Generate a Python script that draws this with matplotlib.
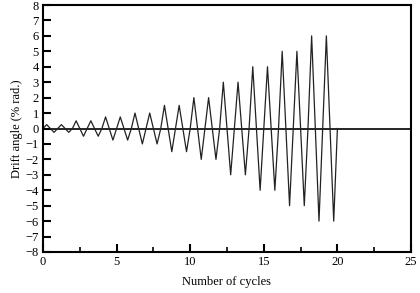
import matplotlib
matplotlib.use("Agg")
import matplotlib.pyplot as plt
import numpy as np

# Loading protocol: amplitude (% rad.) of each cycle
cycle_amplitudes = [0.25, 0.25, 0.5, 0.5, 0.75, 0.75, 1.0, 1.0, 1.5, 1.5,
                    2.0, 2.0, 3.0, 3.0, 4.0, 4.0, 5.0, 5.0, 6.0, 6.0]
x_ticks = [0, 5, 10, 15, 20, 25]
y_ticks = list(range(-8, 9))

plt.rcParams['font.family'] = ['Liberation Serif', 'DejaVu Serif']
plt.rcParams['font.size'] = 9

# Build triangular wave: each cycle goes 0 -> +A -> -A -> 0
xs, ys = [0.0], [0.0]
for i, a in enumerate(cycle_amplitudes):
    xs += [i + 0.25, i + 0.75, i + 1.0]
    ys += [a, -a, 0.0]

fig = plt.figure(figsize=(4.2, 2.93), dpi=100)
ax = fig.add_axes([43/420, 1 - 252/293, (411 - 43)/420, (252 - 5)/293])
ax.axhline(0, color='black', lw=1.2, zorder=1)
ax.plot(xs, ys, color='#222222', lw=0.9, zorder=2)

ax.set_xlim(0, 25)
ax.set_ylim(-8, 8)
ax.set_xticks(x_ticks)
ax.set_xticks([2.5, 7.5, 12.5, 17.5, 22.5], minor=True)
ax.set_yticks(y_ticks)
ax.set_yticklabels([str(v).replace('-', '\u2212') for v in y_ticks])
ax.tick_params(which='major', direction='in', length=6, width=1.5, top=False, right=False, pad=3)
ax.tick_params(which='minor', direction='in', length=3.5, width=1.2, top=False, right=False)
for s in ax.spines.values():
    s.set_linewidth(1.5)

ax.set_xlabel('Number of cycles', labelpad=6)
ax.set_ylabel('Drift angle (% rad.)', labelpad=2)

fig.savefig('out.png', dpi=100)
